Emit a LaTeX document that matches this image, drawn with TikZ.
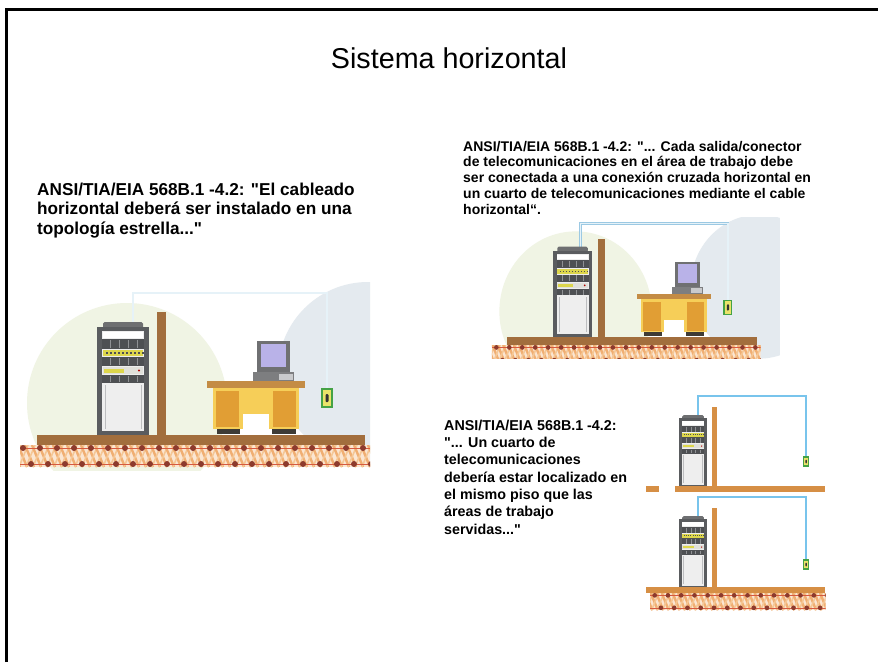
\documentclass[tikz,border=0pt]{standalone}
\usepackage{fontspec}
\setmainfont{Liberation Sans}[Ligatures=TeXOff]

\definecolor{wood}{HTML}{A26E3D}
\definecolor{woodlight}{HTML}{D68F45}
\definecolor{paleleaf}{HTML}{F0F4E4}
\definecolor{palesky}{HTML}{E4EAEF}
\definecolor{cableblue}{HTML}{9CC9E3}
\definecolor{cablecore}{HTML}{E6F2F8}
\definecolor{brightcable}{HTML}{78C4EC}
\definecolor{rackframe}{HTML}{5A5C5F}
\definecolor{rackcap}{HTML}{6E6F71}
\definecolor{rackunit}{HTML}{4E5053}
\definecolor{rackbay}{HTML}{EEEEEE}
\definecolor{rackgap}{HTML}{8F9194}
\definecolor{patchyellow}{HTML}{DDD64C}
\definecolor{patchpale}{HTML}{E0E0DA}
\definecolor{deskyellow}{HTML}{F6CE58}
\definecolor{deskorange}{HTML}{E19E34}
\definecolor{desktop}{HTML}{C48C45}
\definecolor{deskfoot}{HTML}{3E3B36}
\definecolor{pcframe}{HTML}{6F7072}
\definecolor{pcbase}{HTML}{7D7E80}
\definecolor{keylight}{HTML}{C9CACC}
\definecolor{screenlilac}{HTML}{B9B2E8}
\definecolor{outletgreen}{HTML}{45A245}
\definecolor{outletyellow}{HTML}{EAE36A}
\definecolor{hatchbase}{HTML}{FBE6D2}
\definecolor{hatchA}{HTML}{F0AE72}
\definecolor{hatchB}{HTML}{F5C795}
\definecolor{hatchred}{HTML}{D55A40}
\definecolor{bead}{HTML}{8D3B2D}

% equipment rack, drawn in a 52 x 113 box with its top-left corner at the origin
\newcommand{\serverrack}{%
  \fill[rackcap, rounded corners=1.5] (6,0) rectangle (46,7);
  \fill[rackframe] (0,5) rectangle (52,113);
  \fill[rackbay] (5,9) rectangle (47,109);
  \fill[white] (6,10) rectangle (46,16);
  \fill[rackunit] (5,17) rectangle (47,27);
  \fill[patchyellow] (6,28) rectangle (46,34);
  \foreach \u in {9,13,...,45} \fill[rackunit] (\u,30) rectangle ++(1.6,2);
  \fill[rackunit] (5,35) rectangle (47,44);
  \fill[patchpale] (6,45) rectangle (46,52);
  \fill[patchyellow] (7,46.5) rectangle (27,50.5);
  \fill[red!70!black] (42,48.5) circle (1.2);
  \fill[rackunit] (5,53) rectangle (47,61);
  \foreach \u in {13,22,31,40} {
    \draw[rackgap, line width=0.7pt] (\u,18) -- (\u,26);
    \draw[rackgap, line width=0.7pt] (\u,36) -- (\u,43);
    \draw[rackgap, line width=0.7pt] (\u,54) -- (\u,60);
  }
  \draw[rackgap!60, line width=0.6pt] (8,63) -- (8,107) (44,63) -- (44,107);
}

% wall outlet, 10 x 18
\newcommand{\walloutlet}{%
  \fill[outletyellow] (0,0) rectangle (10,18);
  \draw[outletgreen, line width=1.4pt] (0,0) rectangle (10,18);
  \fill[black!80, rounded corners=1] (3.5,5) rectangle (6.5,13);
}

% beaded floor hatching between x #1..#2 and y #3..#4
\newcommand{\floorhatch}[4]{%
  \begin{scope}
    \clip (#1,#3) rectangle (#2,#4);
    \fill[hatchbase] (#1,#3) rectangle (#2,#4);
    \foreach \k in {0,...,60} {
      \draw[hatchA, line width=2.4pt] ({#1+\k*7-6},#3) -- ++(9,{#4-#3});
      \draw[hatchB, line width=1.6pt] ({#1+\k*7+4},#3) -- ++(-9,{#4-#3});
    }
    \draw[hatchred, line width=0.5pt] (#1,{#3+3}) -- (#2,{#3+3}) (#1,{#4-3}) -- (#2,{#4-3});
    \foreach \k in {0,...,25} {
      \fill[bead] ({#1+6+\k*17},{#3+3}) circle (3);
      \fill[bead] ({#1+14+\k*17},{#4-3}) circle (3);
    }
  \end{scope}}

% office floor with telecom room and work area
\newcommand{\officescene}{%
  \fill[paleleaf] (127,403) circle (100);
  \fill[palesky] (368,372) circle (90);
  \draw[cable] (133,324) |- (327,293) -- (327,389);
  \begin{scope}[shift={(97,322)}] \serverrack \end{scope}
  \fill[wood] (157,312) rectangle (166,436);
  \fill[wood] (37,435) rectangle (365,445);
  \floorhatch{17}{370}{445}{467}
  % desk
  \fill[deskyellow] (213,388) rectangle (299,429);
  \fill[deskorange] (216,391) rectangle (239,427);
  \fill[deskorange] (273,391) rectangle (296,427);
  \fill[white] (243,414) rectangle (269,429);
  \fill[deskfoot] (217,429) rectangle (240,434);
  \fill[deskfoot] (272,429) rectangle (296,434);
  \fill[desktop] (207,381) rectangle (305,388);
  % computer
  \fill[pcbase] (253,372) rectangle (294,381);
  \fill[keylight] (279,374) rectangle (293,380);
  \fill[pcframe] (257,341) rectangle (290,372);
  \fill[screenlilac] (261,344) rectangle (286,367);
  \begin{scope}[shift={(322,389)}] \walloutlet \end{scope}
}

\tikzset{
  cable/.style={draw=cableblue, line width=0.8pt, double=cablecore, double distance=1.2pt},
  riser/.style={draw=brightcable, line width=1.3pt},
  headline/.style={font={\fontsize{28.7}{34}\selectfont}, inner sep=0pt},
  clause/.style={align=left, inner sep=0pt, anchor=base west},
}

\begin{document}
\begin{tikzpicture}[x=1pt, y=-1pt]
\useasboundingbox (0,0) rectangle (878,662);
\fill[white] (0,0) rectangle (878,662);

% slide frame
\draw[black, line width=3pt] (6.5,662) -- (6.5,9.5) -- (878,9.5);

\node[headline, anchor=base] (title) at (449,68) {Sistema horizontal};

% left figure
\begin{scope}
  \clip (20,272) rectangle (370,470);
  \officescene
\end{scope}

% upper right figure
\begin{scope}[shift={(478.8,-11)}, xscale=0.762, yscale=0.80]
  \clip (11,285) rectangle (395,462);
  \officescene
\end{scope}

% two storeys, lower right
\draw[riser] (698,416) |- (806,396) -- (806,458);
\begin{scope}[shift={(679,415)}, xscale=0.54, yscale=0.64] \serverrack \end{scope}
\fill[woodlight] (712,407) rectangle (717,488);
\fill[woodlight] (675,486) rectangle (825,492);
\fill[woodlight] (646,486) rectangle (659,492);
\begin{scope}[shift={(803.5,457)}, scale=0.5] \walloutlet \end{scope}

\draw[riser] (698,517) |- (806,497) -- (806,560);
\begin{scope}[shift={(679,516)}, xscale=0.54, yscale=0.64] \serverrack \end{scope}
\fill[woodlight] (712,508) rectangle (717,588);
\fill[woodlight] (646,587) rectangle (825,593);
\begin{scope}[shift={(650,593)}, scale=0.78] \floorhatch{0}{225}{0}{22} \end{scope}
\begin{scope}[shift={(803.5,560)}, scale=0.5] \walloutlet \end{scope}

% quoted clauses (anchored at the baseline of their last line)
\node[clause, font={\bfseries\fontsize{17.2}{19.5}\selectfont}] (starclause) at (37,234)
  {ANSI/TIA/EIA 568B.1 -4.2: "El cableado\\horizontal deberá ser instalado en una\\topología estrella..."};

\node[clause, font={\bfseries\fontsize{14}{15.75}\selectfont}] (outletclause) at (463,214)
  {ANSI/TIA/EIA 568B.1 -4.2: "... Cada salida/conector\\de telecomunicaciones en el área de trabajo debe\\ser conectada a una conexión cruzada horizontal en\\un cuarto de telecomunicaciones mediante el cable\\horizontal“.};

\node[clause, font={\bfseries\fontsize{14.3}{17.3}\selectfont}] (floorclause) at (444,534)
  {ANSI/TIA/EIA 568B.1 -4.2:\\"... Un cuarto de\\telecomunicaciones\\debería estar localizado en\\el mismo piso que las\\áreas de trabajo\\servidas..."};
\end{tikzpicture}
\end{document}
